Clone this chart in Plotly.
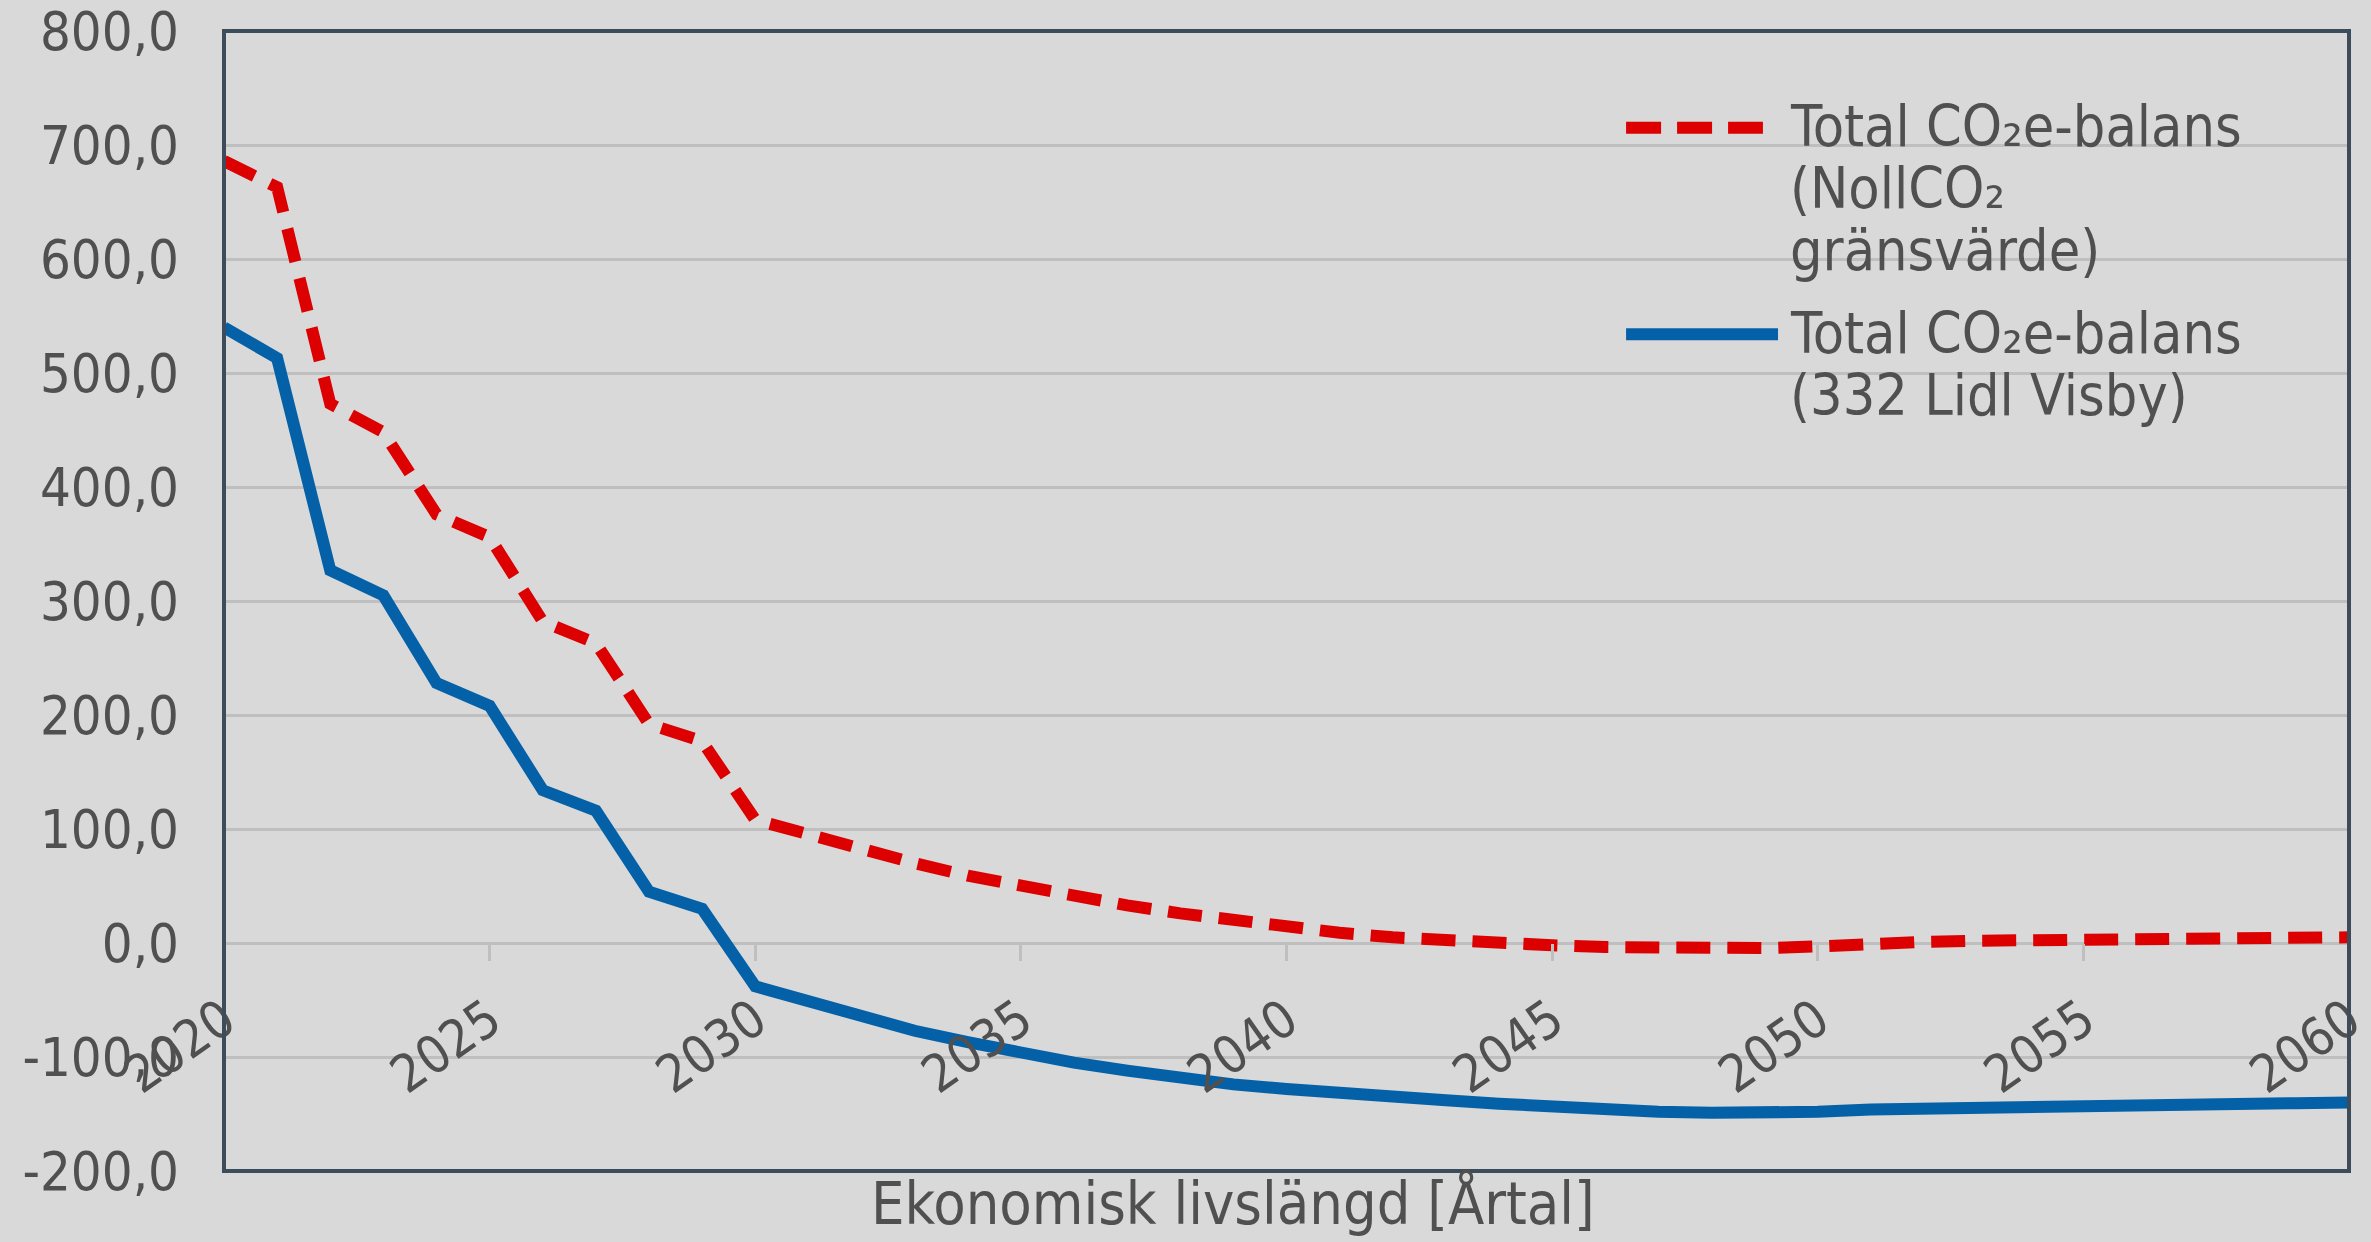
import plotly.graph_objects as go

# ---------------- data ----------------
years = list(range(2020, 2061))

red_name = "Total CO₂e-balans (NollCO₂ gränsvärde)"
red_vals = [686, 663, 473, 448, 376, 356, 282, 263, 192, 177,
            108, 95, 81, 70, 59, 50, 41, 33, 26, 20,
            14, 9, 5, 2, 0, -2, -3.5, -4.5, -5, -4.5,
            -3, 0, 1, 2, 2.6, 3.2, 3.7, 4.1, 4.5, 4.8,
            5]

blue_name = "Total CO₂e-balans (332 Lidl Visby)"
blue_vals = [540, 513, 327, 305, 228, 208, 134, 116, 45, 30,
             -38, -51, -65, -77, -87, -97, -105, -112, -119, -124,
             -128, -132, -135, -138, -141, -144, -146, -148, -149, -149,
             -148, -146, -145, -144, -143, -142.5, -142, -141.5, -141, -140.5,
             -140]

red_legend_lines = ["Total CO₂e-balans", "(NollCO₂", "gränsvärde)"]
blue_legend_lines = ["Total CO₂e-balans", "(332 Lidl Visby)"]

x_tick_vals = [2020, 2025, 2030, 2035, 2040, 2045, 2050, 2055, 2060]
x_tick_text = ["2020", "2025", "2030", "2035", "2040", "2045", "2050", "2055", "2060"]

y_tick_vals = [-200, -100, 0, 100, 200, 300, 400, 500, 600, 700, 800]
y_tick_text = ["-200,0", "-100,0", "0,0", "100,0", "200,0", "300,0",
               "400,0", "500,0", "600,0", "700,0", "800,0"]

x_title = "Ekonomisk livslängd [Årtal]"

# ---------------- styles ----------------
BG = "#d9d9d9"
GRID = "#bfbfbf"
TEXT = "#505050"
BORDER = "#3c4c5a"
RED = "#dc0000"
BLUE = "#0461a8"
FONT = "DejaVu Sans Condensed, DejaVu Sans"

fig = go.Figure()
fig.add_trace(go.Scatter(x=years, y=blue_vals, mode="lines", name=blue_name,
                         line=dict(color=BLUE, width=12)))
fig.add_trace(go.Scatter(x=years, y=red_vals, mode="lines", name=red_name,
                         line=dict(color=RED, width=12, dash="34px,17px")))

fig.update_layout(
    width=2371, height=1242,
    margin=dict(l=224, r=22, t=31, b=71, autoexpand=False),
    paper_bgcolor=BG, plot_bgcolor=BG,
    showlegend=False,
    font=dict(family=FONT, color=TEXT),
)

fig.update_xaxes(
    range=[2020, 2060], anchor="free", position=0.2, automargin=False,
    tickmode="array", tickvals=x_tick_vals, ticktext=x_tick_text,
    tickangle=-35, ticks="outside", ticklen=17, tickwidth=3, tickcolor=GRID,
    showgrid=False, showline=False, zeroline=False,
    tickfont=dict(size=52, color=TEXT, family=FONT),
    ticklabelstandoff=8, ticklabeloverflow="allow",
)
fig.update_yaxes(
    range=[-200, 800], automargin=False,
    tickmode="array", tickvals=y_tick_vals, ticktext=y_tick_text,
    showgrid=True, gridcolor=GRID, gridwidth=3,
    zeroline=True, zerolinecolor=GRID, zerolinewidth=3,
    showline=False, ticks="",
    tickfont=dict(size=54, color=TEXT, family=FONT),
    ticklabelstandoff=44, ticklabeloverflow="allow",
)

# plot frame
fig.add_shape(type="rect", xref="paper", yref="paper", x0=0, x1=1, y0=0, y1=1,
              line=dict(color=BORDER, width=4), fillcolor="rgba(0,0,0,0)")

# custom legend (line samples + text)
fig.add_shape(type="line", xref="paper", yref="paper",
              x0=0.6598, x1=0.7242, y0=0.9152, y1=0.9152,
              line=dict(color=RED, width=12, dash="35px,16px"))
fig.add_shape(type="line", xref="paper", yref="paper",
              x0=0.6598, x1=0.7313, y0=0.7339, y1=0.7339,
              line=dict(color=BLUE, width=12))

red_ys = [0.9164, 0.8620, 0.8076]
blue_ys = [0.7348, 0.6804]
for txt, yy in zip(red_legend_lines, red_ys):
    fig.add_annotation(x=0.736, y=yy, xref="paper", yref="paper", text=txt,
                       showarrow=False, xanchor="left", yanchor="middle",
                       font=dict(size=57, color=TEXT, family=FONT))
for txt, yy in zip(blue_legend_lines, blue_ys):
    fig.add_annotation(x=0.736, y=yy, xref="paper", yref="paper", text=txt,
                       showarrow=False, xanchor="left", yanchor="middle",
                       font=dict(size=57, color=TEXT, family=FONT))

# x-axis title
fig.add_annotation(x=0.475, y=-0.0605, xref="paper", yref="paper", text=x_title,
                   showarrow=False, xanchor="center", yanchor="bottom",
                   font=dict(size=59, color=TEXT, family=FONT))

fig.write_html("out.html", config={"displayModeBar": False},
               post_script="document.body.style.margin='0';")
